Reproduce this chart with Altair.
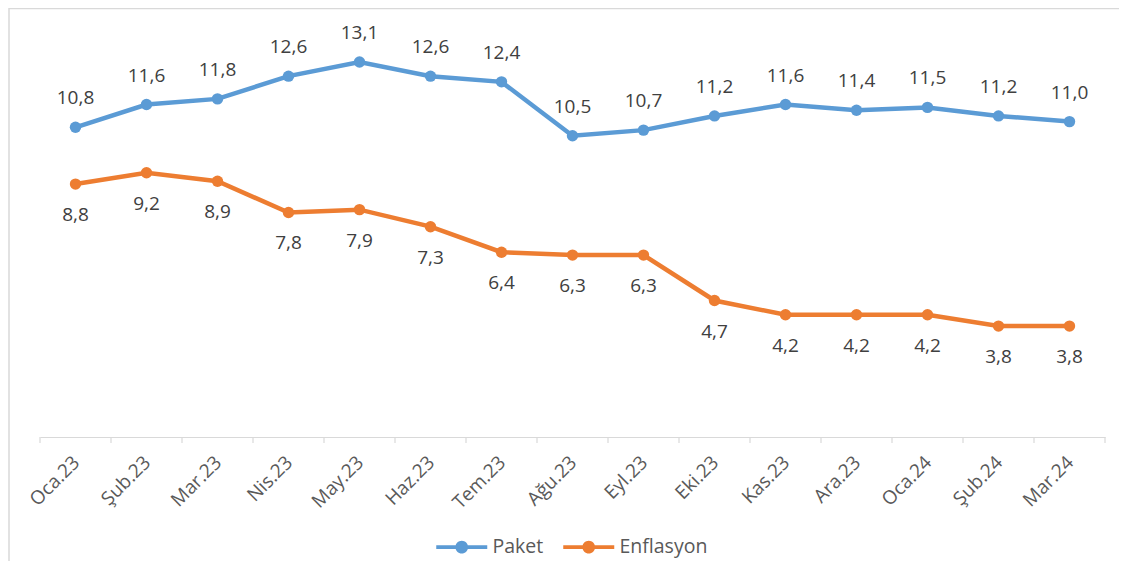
import altair as alt
import pandas as pd

months = ["Oca.23", "Şub.23", "Mar.23", "Nis.23", "May.23", "Haz.23", "Tem.23",
          "Ağu.23", "Eyl.23", "Eki.23", "Kas.23", "Ara.23", "Oca.24", "Şub.24", "Mar.24"]
paket = [10.8, 11.6, 11.8, 12.6, 13.1, 12.6, 12.4, 10.5, 10.7, 11.2, 11.6, 11.4, 11.5, 11.2, 11.0]
enflasyon = [8.8, 9.2, 8.9, 7.8, 7.9, 7.3, 6.4, 6.3, 6.3, 4.7, 4.2, 4.2, 4.2, 3.8, 3.8]
series_names = ["Paket", "Enflasyon"]
series_colors = ["#5B9BD5", "#ED7D31"]

rows = []
for m, p, e in zip(months, paket, enflasyon):
    rows.append({"ay": m, "seri": "Paket", "deger": p})
    rows.append({"ay": m, "seri": "Enflasyon", "deger": e})
df = pd.DataFrame(rows)
ticks_df = pd.DataFrame({"ay": months})

FONT = "Open Sans"
W, H = 1065, 426

xscale = alt.Scale(type="band", domain=months, paddingInner=0, paddingOuter=0)
yscale = alt.Scale(domain=[0, 15], nice=False, zero=True)

legend_path = ("M -4.25 -0.3 L 4.25 -0.3 L 4.25 0.3 L -4.25 0.3 Z "
               "M 1.05 0 A 1.05 1.05 0 1 1 -1.05 0 A 1.05 1.05 0 1 1 1.05 0 Z")

x_enc = alt.X("ay:N", scale=xscale, sort=months, bandPosition=0.5,
              axis=alt.Axis(title=None, labelAngle=-45, labelAlign="right",
                            labelBaseline="middle", labelFont=FONT, labelFontSize=19,
                            labelColor="#595959", ticks=False, domainColor="#D9D9D9",
                            domainWidth=1.2, offset=3, labelPadding=22, labelOffset=1))
y_enc = alt.Y("deger:Q", scale=yscale, axis=None)
color_enc = alt.Color("seri:N", scale=alt.Scale(domain=series_names, range=series_colors),
                      legend=alt.Legend(title=None, orient="none", direction="horizontal",
                                        legendX=412, legendY=529, symbolType=legend_path,
                                        symbolSize=144, symbolStrokeWidth=0,
                                        labelFont=FONT, labelFontSize=19.5,
                                        labelColor="#595959", labelOffset=21,
                                        columnPadding=19, padding=0))

base = alt.Chart(df)

line = base.mark_line(strokeWidth=4.5).encode(x=x_enc, y=y_enc, color=color_enc)
pts = base.mark_point(filled=True, size=130, opacity=1).encode(x=x_enc, y=y_enc, color=color_enc)

lab = base.transform_calculate(
    etiket="replace(format(datum.deger, '.1f'), '.', ',')"
)
x_lab = alt.X("ay:N", scale=xscale, sort=months, bandPosition=0.5)
lab_paket = lab.transform_filter(alt.datum.seri == "Paket").mark_text(
    font=FONT, fontSize=19, color="#404040", dy=-29, baseline="middle"
).encode(x=x_lab, y=y_enc, text="etiket:N")
lab_enf = lab.transform_filter(alt.datum.seri == "Enflasyon").mark_text(
    font=FONT, fontSize=19, color="#404040", dy=31, baseline="middle"
).encode(x=x_lab, y=y_enc, text="etiket:N")

tick_start = alt.Chart(ticks_df).mark_rule(color="#D9D9D9", strokeWidth=1.2).encode(
    x=alt.X("ay:N", scale=xscale, sort=months, bandPosition=0),
    y=alt.value(H + 3), y2=alt.value(H + 9))
tick_end = alt.Chart(ticks_df).transform_filter(alt.datum.ay == months[-1]).mark_rule(
    color="#D9D9D9", strokeWidth=1.2).encode(
    x=alt.X("ay:N", scale=xscale, sort=months, bandPosition=1),
    y=alt.value(H + 3), y2=alt.value(H + 9))

border_top = alt.Chart(ticks_df).transform_filter(alt.datum.ay == months[0]).mark_rule(
    color="#D9D9D9", strokeWidth=1.5).encode(
    x=alt.value(-31), x2=alt.value(1083), y=alt.value(0.5))
border_left = alt.Chart(ticks_df).transform_filter(alt.datum.ay == months[0]).mark_rule(
    color="#D9D9D9", strokeWidth=1.5).encode(
    x=alt.value(-31), y=alt.value(0), y2=alt.value(560))

chart = alt.layer(
    border_top, border_left, tick_start, tick_end, line, pts, lab_paket, lab_enf
).properties(
    width=W, height=H,
    background="white",
    autosize=alt.AutoSizeParams(type="none"),
    padding={"left": 32, "top": 0, "right": 14, "bottom": 127},
).configure_view(strokeWidth=0, strokeOpacity=0)

chart.save("out.html", embed_options={"renderer": "svg", "actions": False})
